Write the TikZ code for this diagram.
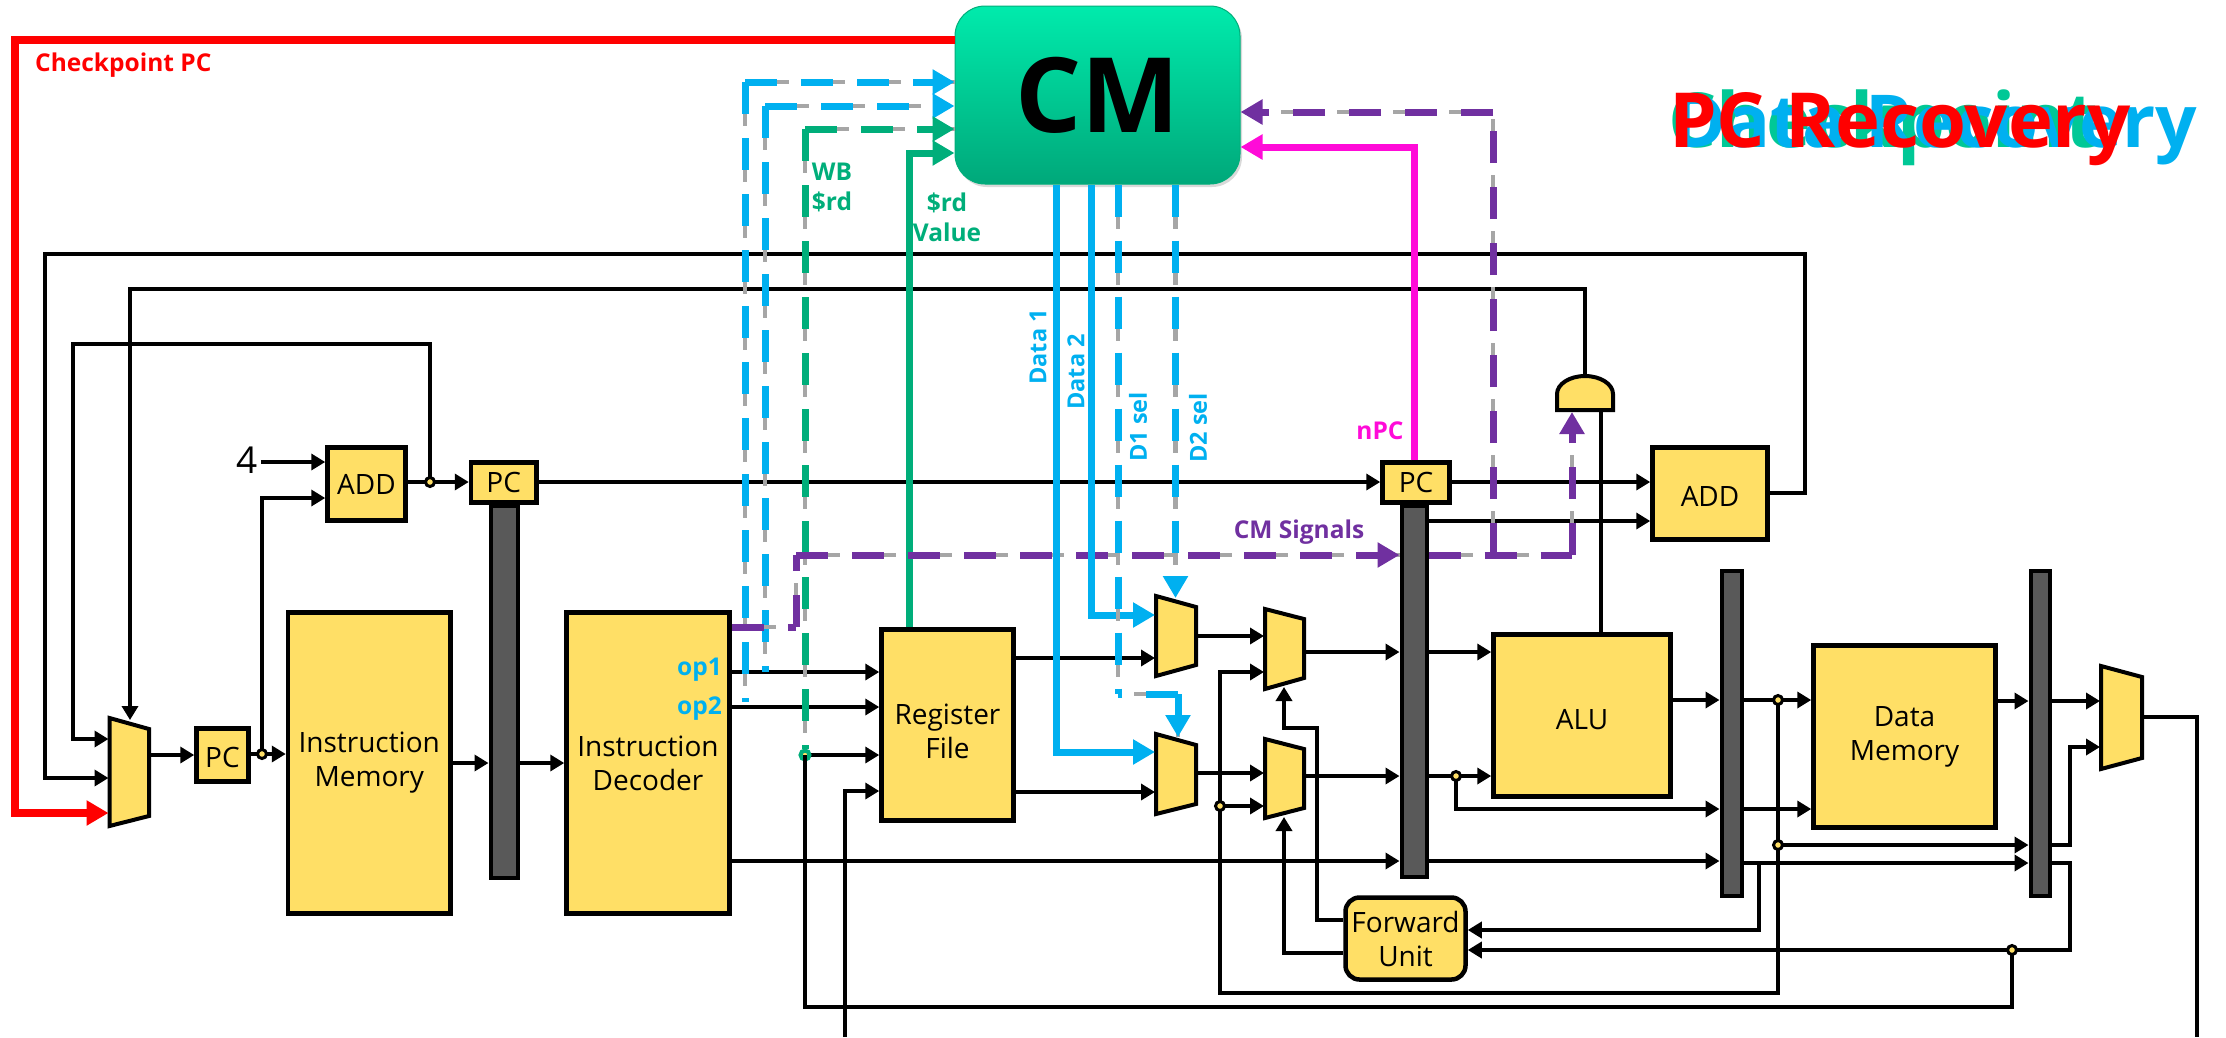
\documentclass[tikz,border=0pt]{standalone}
\usepackage{fontspec}
\setmainfont{Open Sans}
\usetikzlibrary{arrows.meta,shadows,calc}
\definecolor{blk}{HTML}{FFDF66}
\definecolor{cmblue}{HTML}{00B0F0}
\definecolor{cmpurple}{HTML}{7030A0}
\definecolor{cmgreen}{HTML}{00AE7A}
\definecolor{bigreen}{HTML}{00C896}
\definecolor{cmmag}{HTML}{FF0BD8}
\definecolor{cmgray}{HTML}{A6A6A6}
\definecolor{bardark}{HTML}{595959}
\definecolor{cmtop}{HTML}{00EBAC}
\definecolor{cmbot}{HTML}{00A87A}
\tikzset{
  blockbox/.style={rectangle,draw=black,fill=blk,line width=4.5pt,inner sep=0pt,align=center,font=\fontsize{28}{34}\selectfont},
  fwdbox/.style={blockbox,rounded corners=14pt},
  barbox/.style={rectangle,draw=black,fill=bardark,line width=4pt,inner sep=0pt},
  muxbox/.style={rectangle,inner sep=0pt,outer sep=0pt},
  gatefill/.style={draw=black,fill=blk,line width=4pt,line join=miter},
  wire/.style={draw=black,line width=4pt,-{Triangle[length=14pt,width=16pt]}},
  plainwire/.style={draw=black,line width=4pt},
  jdot/.style={circle,draw=black,fill=blk,line width=3pt,inner sep=0pt,minimum size=9pt},
  gdot/.style={circle,draw=cmgreen,fill=blk,line width=4pt,inner sep=0pt,minimum size=9pt},
  bigtip/.style={-{Triangle[length=22pt,width=24pt]}},
  solidthick/.style={line width=7pt},
  maindash/.style={line width=7pt,dash pattern=on 32pt off 24pt},
  graydash/.style={draw=cmgray,line width=4.5pt,dash pattern=on 12pt off 44pt,dash phase=24pt},
  lab/.style={inner sep=0pt,font=\fontsize{24.5}{30}\selectfont\bfseries,align=center},
  rotlab/.style={inner sep=0pt,rotate=90,text=cmblue,font=\fontsize{23.5}{26}\selectfont\bfseries},
  bigtext/.style={inner sep=0pt,anchor=base west,font=\fontsize{75}{80}\selectfont\bfseries},
}
\newcommand\boxn[7][blockbox]{\node[#1,minimum width={(#4-#2-3)*1pt},minimum height={(#5-#3-3)*1pt}] (#6) at ({(#2+#4)/2},{(#3+#5)/2}) {#7};}
\newcommand\muxn[7]{\node[muxbox,minimum width={(#3-#2)*1pt},minimum height={(#5-#4)*1pt}] (#1) at ({(#2+#3)/2},{(#4+#5)/2}) {};
  \filldraw[gatefill] ({#2+1},{#4+2}) -- ({#3-1},{#6+2}) -- ({#3-1},{#7-2}) -- ({#2+1},{#5-2}) -- cycle;}
\newcommand\dashseg[3][]{\draw[graydash] #3; \draw[#2,maindash,#1] #3;}
\begin{document}
\begin{tikzpicture}[x=1pt,y=-1pt]
\useasboundingbox (0,0) rectangle (2226,1037);
% big overlaid titles
\node[bigtext,text=bigreen,font=\fontsize{76}{80}\selectfont\bfseries] (tgreen) at (1668,147) {Checkpoint};
\node[bigtext,text=cmblue,font=\fontsize{73}{80}\selectfont\bfseries] (tblue) at (1672,147) {Data Recovery};
\node[bigtext,text=red,font=\fontsize{76}{80}\selectfont\bfseries] (tred) at (1669,147) {PC Recovery};
% blocks
\boxn{326}{446}{407}{522}{adda}{ADD}
\boxn{469.5}{461}{538}{504}{pca}{PC}
\boxn{195}{727}{250}{783}{ifpc}{\rule{0pt}{26pt}PC}
\boxn{286.5}{611}{452}{915}{imem}{Instruction\\Memory}
\boxn{565}{611}{731}{915}{idec}{Instruction\\Decoder}
\boxn{880}{628}{1015}{822}{rf}{\rule{0pt}{34pt}Register\\File}
\boxn{1492}{633}{1672}{798}{alu}{\rule{0pt}{28pt}ALU}
\boxn{1651}{446}{1769}{541}{addb}{\rule{0pt}{26pt}ADD}
\boxn{1381}{461}{1451}{504}{pcb}{PC}
\boxn{1812}{644}{1997}{829}{dmem}{Data\\Memory}
\boxn[fwdbox]{1344}{896}{1467}{981}{fwd}{Forward\\Unit}
\boxn[barbox]{489}{504}{519}{879}{ifid}{}
\boxn[barbox]{1400}{504}{1428}{878}{idex}{}
\boxn[barbox]{1720}{569}{1743}{897}{exmem}{}
\boxn[barbox]{2029}{569}{2051}{897}{memwb}{}
\muxn{mpc}{108.5}{150}{716}{828}{727}{818}
\muxn{muxa}{1155}{1197}{594}{678}{605}{667}
\muxn{muxb}{1155}{1197}{732}{816}{743}{806}
\muxn{muxc}{1264}{1305}{607}{691}{617}{680}
\muxn{muxd}{1264}{1305}{737}{820}{747}{810}
\muxn{mwb}{2100}{2143}{664}{771}{675}{760}
\node[muxbox,minimum width=58pt,minimum height=37pt] (andg) at (1585,393.5) {};
\filldraw[gatefill] (1557,410) -- (1557,394) arc[start angle=180,end angle=0,x radius=28pt,y radius=18pt] -- (1613,410) -- cycle;
\node[inner sep=3pt,font=\fontsize{37}{40}\selectfont] (four) at (247,460) {4};
% junction points
\coordinate (jadd) at (430,482);
\coordinate (jif) at (262,754);
\coordinate (jwb) at (805,755);
\coordinate (jfwd) at (1220,806);
\coordinate (jex) at (1456,776);
\coordinate (jma) at (1778,700);
\coordinate (jmb) at (1778,845);
\coordinate (jwd) at (2012,950);
\coordinate (rfbot) at (845,1037);
\coordinate (wbbot) at (2197,1037);
% black wires
\draw[wire] (four.east |- 0,462) -- (adda.west |- 0,462);
\draw[wire] (adda.east |- 0,482) -- (pca.west |- 0,482);
\draw[wire] (pca.east |- 0,482) -- (pcb.west |- 0,482);
\draw[wire] (pcb.east |- 0,482) -- (addb.west |- 0,482);
\draw[wire] (idex.east |- 0,521) -- (addb.west |- 0,521);
\draw[wire] (addb.east |- 0,493) -- (1805,493) -- (1805,254) -- (45,254) -- (45,778) -- (mpc.west |- 0,778);
\draw[wire] (andg.north) -- (1585,289) -- (130,289) -- (130,720);
\draw[wire] (jadd) -- (430,344) -- (73,344) -- (73,739) -- (mpc.west |- 0,739);
\draw[wire] (mpc.east |- 0,755) -- (ifpc.west |- 0,755);
\draw[wire] (ifpc.east |- 0,754) -- (imem.west |- 0,754);
\draw[wire] (jif) -- (262,498) -- (adda.west |- 0,498);
\draw[wire] (imem.east |- 0,763) -- (ifid.west |- 0,763);
\draw[wire] (ifid.east |- 0,763) -- (idec.west |- 0,763);
\draw[wire] (idec.east |- 0,672) -- (rf.west |- 0,672);
\draw[wire] (idec.east |- 0,707) -- (rf.west |- 0,707);
\draw[wire] (jwb) -- (rf.west |- 0,755);
\draw[wire] (rfbot) -- (845,791) -- (rf.west |- 0,791);
\draw[plainwire] (jwb) -- (805,1007) -- (2012,1007) -- (jwd);
\draw[wire] (idec.east |- 0,861) -- (idex.west |- 0,861);
\draw[wire] (idex.east |- 0,861) -- (exmem.west |- 0,861);
\draw[wire] (rf.east |- 0,658) -- (muxa.west |- 0,658);
\draw[wire] (rf.east |- 0,792) -- (muxb.west |- 0,792);
\draw[wire] (muxa.east |- 0,636) -- (muxc.west |- 0,636);
\draw[wire] (muxb.east |- 0,773) -- (muxd.west |- 0,773);
\draw[wire] (jmb) -- (1778,993) -- (1220,993) -- (1220,672) -- (muxc.west |- 0,672);
\draw[wire] (jfwd) -- (muxd.west |- 0,806);
\draw[wire] (muxc.east |- 0,652) -- (idex.west |- 0,652);
\draw[wire] (muxd.east |- 0,776) -- (idex.west |- 0,776);
\draw[wire] (idex.east |- 0,652) -- (alu.west |- 0,652);
\draw[wire] (idex.east |- 0,776) -- (alu.west |- 0,776);
\draw[wire] (jex) -- (1456,809) -- (exmem.west |- 0,809);
\draw[wire] (alu.east |- 0,700) -- (exmem.west |- 0,700);
\draw[wire] (exmem.east |- 0,700) -- (dmem.west |- 0,700);
\draw[plainwire] (jma) -- (jmb);
\draw[wire] (jmb) -- (memwb.west |- 0,845);
\draw[wire] (exmem.east |- 0,809) -- (dmem.west |- 0,809);
\draw[wire] (dmem.east |- 0,701) -- (memwb.west |- 0,701);
\draw[wire] (memwb.east |- 0,701) -- (mwb.west |- 0,701);
\draw[wire] (memwb.east |- 0,845) -- (2070,845) -- (2070,747) -- (mwb.west |- 0,747);
\draw[wire] (exmem.east |- 0,863) -- (memwb.west |- 0,863);
\draw[wire] (memwb.east |- 0,863) -- (2070,863) -- (2070,950) -- (fwd.east |- 0,950);
\draw[wire] (1759,863) -- (1759,930) -- (fwd.east |- 0,930);
\draw[plainwire] (mwb.east |- 0,717) -- (2197,717) -- (wbbot);
\draw[wire] (fwd.west |- 0,920) -- (1317,920) -- (1317,728) -- (1284,728) -- (1284,687);
\draw[wire] (fwd.west |- 0,953) -- (1284,953) -- (1284,817);
\draw[plainwire] (alu.north -| 1601,0) -- (andg.south -| 1601,0);
% junction dots
\node[jdot] (dadd) at (jadd) {};
\node[jdot] (dif) at (jif) {};
\node[jdot] (dfwd) at (jfwd) {};
\node[jdot] (dex) at (jex) {};
\node[jdot] (dma) at (jma) {};
\node[jdot] (dmb) at (jmb) {};
\node[jdot] (dwd) at (jwd) {};
\node[gdot] (dwb) at (jwb) {};
\draw[plainwire] (dwb.center) -- (805,770);
% Checkpoint manager
\node[rectangle,rounded corners=30pt,minimum width=285pt,minimum height=178pt,inner sep=0pt,
  top color=cmtop,bottom color=cmbot,draw=cmgreen,line width=1pt,
  drop shadow={opacity=.3,shadow xshift=2pt,shadow yshift=-3pt},
  font=\fontsize{104}{110}\selectfont\bfseries,text=black] (cm) at (1097.5,95) {CM};
% corners of the coloured routes
\coordinate (rtop) at (15,40);
\coordinate (rbot) at (15,813);
\coordinate (ba) at (745,82);
\coordinate (baend) at (745,702);
\coordinate (bb) at (765,106);
\coordinate (bbend) at (765,672);
\coordinate (ga) at (805,129);
\coordinate (pa) at (796,627);
\coordinate (pb) at (796,555);
\coordinate (pc) at (1493,555);
\coordinate (pd) at (1572,555);
\coordinate (pe) at (1493,112);
\coordinate (dsel) at (1178,694);
% red
\draw[red,line width=7.5pt,bigtip] (cm.west |- rtop) -- (rtop) -- (rbot) -- (mpc.west |- rbot);
% blue dashed to CM
\dashseg{cmblue}{(ba) -- (baend)}
\dashseg[bigtip]{cmblue}{(ba) -- (cm.west |- ba)}
\dashseg{cmblue}{(bb) -- (bbend)}
\dashseg[bigtip]{cmblue}{(bb) -- (cm.west |- bb)}
% green
\dashseg{cmgreen}{(ga) -- (dwb.north)}
\dashseg[bigtip]{cmgreen}{(ga) -- (cm.west |- ga)}
\draw[cmgreen,solidthick,bigtip] (rf.north -| 909,0) -- (909,153) -- (cm.west |- 0,153);
% purple CM signals
\dashseg{cmpurple}{(idec.east |- pa) -- (pa)}
\dashseg{cmpurple}{(pa) -- (pb)}
\dashseg[bigtip]{cmpurple}{(pb) -- (idex.west |- pb)}
\dashseg{cmpurple}{(idex.east |- pc) -- (pd)}
\dashseg[bigtip]{cmpurple}{(pd) -- (andg.south -| pd)}
\dashseg{cmpurple}{(pc) -- (pe)}
\dashseg[bigtip]{cmpurple}{(pe) -- (cm.east |- pe)}
% magenta
\draw[cmmag,solidthick,bigtip] (pcb.north -| 1414,0) -- (1414,147) -- (cm.east |- 0,147);
% CM data outputs
\draw[cmblue,solidthick,bigtip] (cm.south -| 1056,0) -- (1056,752) -- (muxb.west |- 0,752);
\draw[cmblue,solidthick,bigtip] (cm.south -| 1091,0) -- (1091,615) -- (muxa.west |- 0,615);
\dashseg{cmblue}{(cm.south -| 1118,0) -- (1118,694)}
\dashseg{cmblue}{(dsel) -- (1118,694)}
\dashseg[bigtip]{cmblue}{(dsel) -- (1178,737)}
\dashseg[bigtip]{cmblue}{(cm.south -| 1175.5,0) -- (1175.5,598)}
% labels
\node[lab,text=red,anchor=west] (lckpt) at (35,65) {Checkpoint PC};
\node[lab,text=cmblue,anchor=east] (lop1) at (722,670) {op1};
\node[lab,text=cmblue,anchor=east] (lop2) at (722,709) {op2};
\node[lab,text=cmgreen] (lwb) at (832,187) {WB\\\$rd};
\node[lab,text=cmgreen] (lval) at (947,217) {\$rd\\Value};
\node[lab,text=cmmag] (lnpc) at (1380,431) {nPC};
\node[lab,text=cmpurple] (lsig) at (1299,532) {CM Signals};
\node[rotlab] (ld1) at (1038,347) {Data 1};
\node[rotlab] (ld2) at (1076,372) {Data 2};
\node[rotlab] (ls1) at (1138,427) {D1 sel};
\node[rotlab] (ls2) at (1198,428) {D2 sel};
\end{tikzpicture}
\end{document}
